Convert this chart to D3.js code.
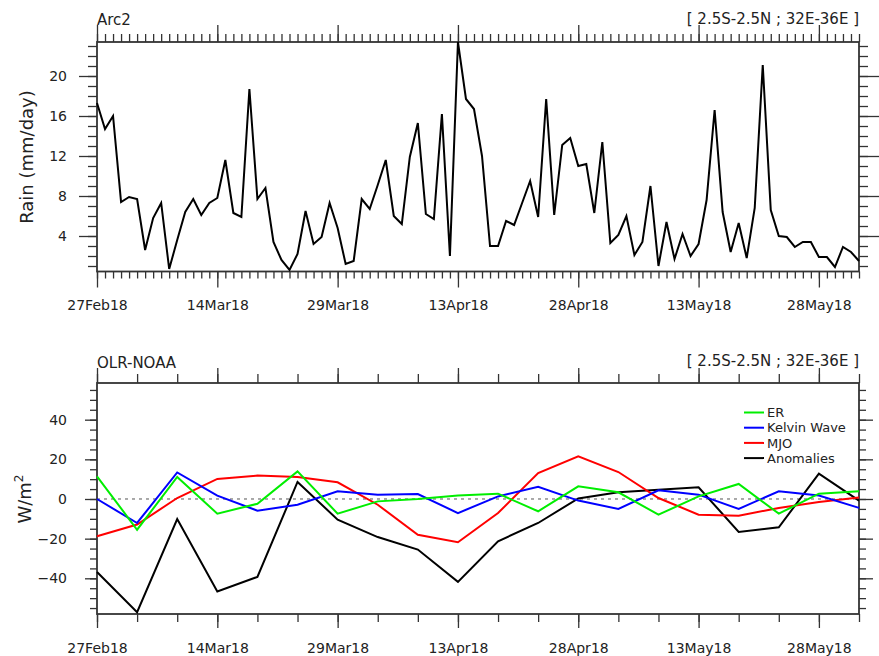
<!DOCTYPE html>
<html>
<head>
<meta charset="utf-8">
<script src="https://cdn.jsdelivr.net/npm/d3@7"></script>
<style>
body { margin: 0; background: #fff; }
svg { display: block; font-family: "DejaVu Sans", sans-serif; }
</style>
</head>
<body>
<svg id="chart" width="879" height="656"></svg>
<script>
var startDate = "2018-02-27";

// daily rain, 27Feb18 .. 02Jun18
var rainDaily = [
  17.3, 14.7, 16.0, 7.4, 7.9, 7.7, 2.6, 5.8, 7.3, 0.7,
  3.6, 6.4, 7.7, 6.1, 7.3, 7.8, 11.6, 6.3, 5.9, 18.7,
  7.7, 8.8, 3.4, 1.6, 0.6, 2.2, 6.5, 3.2, 3.9, 7.3,
  4.8, 1.2, 1.5, 7.7, 6.7, 9.1, 11.6, 6.0, 5.2, 11.9,
  15.3, 6.2, 5.7, 16.2, 2.0, 23.4, 17.7, 16.7, 12.0, 3.0,
  3.0, 5.5, 5.1, 7.3, 9.5, 5.9, 17.7, 6.1, 13.1, 13.8,
  11.0, 11.2, 6.3, 13.4, 3.3, 4.1, 6.0, 2.1, 3.4, 9.0,
  1.0, 5.4, 1.7, 4.2, 2.0, 3.2, 7.6, 16.6, 6.4, 2.4,
  5.3, 1.8, 6.8, 21.1, 6.6, 4.0, 3.9, 2.9, 3.4, 3.4,
  1.9, 1.9, 0.9, 2.9, 2.4, 1.5
];

// 5-day OLR components, W/m2
var olrER = [11.4, -15.5, 11.1, -7.4, -2.4, 13.9, -7.4, -1.2, 0, 1.8,
             2.7, -6.2, 6.4, 3.4, -7.9, 1.3, 7.6, -7.4, 2.7, 3.9];
var olrKelvin = [0, -12.1, 13.4, 1.7, -5.9, -2.9, 3.9, 2.2, 2.5, -7.1,
                 1.3, 6.1, -0.8, -5.0, 4.4, 2.2, -5.0, 3.9, 1.8, -4.5];
var olrMJO = [-18.8, -12.9, 0.5, 10.1, 11.8, 11.1, 8.4, -2.9, -18.0, -21.8,
              -7.1, 13.1, 21.5, 13.6, 0.5, -7.9, -8.4, -4.5, -1.5, 0.8];
var olrAnom = [-36.8, -57.1, -10.1, -46.6, -39.3, 8.6, -10.4, -19.2, -25.5, -41.8,
               -21.3, -12.1, 0.3, 3.4, 4.7, 5.9, -16.6, -14.3, 12.8, -0.8];

var seriesNames = ["ER", "Kelvin Wave", "MJO", "Anomalies"];
var seriesColors = ["#00ee00", "#0000ff", "#ff0000", "#000000"];

var dateLabels = ["27Feb18", "14Mar18", "29Mar18", "13Apr18", "28Apr18", "13May18", "28May18"];
var rainTicks = [4, 8, 12, 16, 20];
var olrTicks = [-40, -20, 0, 20, 40];

var svg = d3.select("#chart");
var t0 = d3.utcParse("%Y-%m-%d")(startDate);
var nDays = rainDaily.length;

var dailyDates = rainDaily.map((_, i) => d3.utcDay.offset(t0, i));
var pentadDates = olrER.map((_, i) => d3.utcDay.offset(t0, 5 * i));
var majorDates = dateLabels.map((_, i) => d3.utcDay.offset(t0, 15 * i));

var x = d3.scaleUtc()
  .domain([t0, dailyDates[nDays - 1]])
  .range([97, 859]);

var frameColor = "#333";

function addAxis(g, axis, tx, ty) {
  var a = g.append("g")
    .attr("transform", "translate(" + tx + "," + ty + ")")
    .call(axis);
  a.select(".domain").remove();
  a.selectAll("line").attr("stroke", frameColor).attr("stroke-width", 1.3);
  a.selectAll("text")
    .attr("font-family", "DejaVu Sans")
    .attr("font-size", 14)
    .attr("fill", "#222");
  return a;
}

// panel: box, ticks on all four sides
function drawPanel(y, top, bottom, o) {
  var g = svg.append("g");
  var left = 97, right = 859;

  // x ticks bottom
  addAxis(g, d3.axisBottom(x).tickValues(o.xMinor).tickSize(o.xMinorLen).tickFormat(""), 0, bottom);
  addAxis(g, d3.axisBottom(x).tickValues(majorDates).tickSize(o.xMajorLen)
    .tickPadding(o.xPad).tickFormat((d, i) => dateLabels[i]), 0, bottom);
  // x ticks top
  addAxis(g, d3.axisTop(x).tickValues(o.xMinor).tickSize(o.xMinorLen + 1).tickFormat(""), 0, top);
  addAxis(g, d3.axisTop(x).tickValues(majorDates).tickSize(o.xMajorLen + 1).tickFormat(""), 0, top);

  // y ticks left
  addAxis(g, d3.axisLeft(y).tickValues(o.yMinor).tickSize(o.yMinorLen).tickFormat(""), left, 0);
  addAxis(g, d3.axisLeft(y).tickValues(o.yMajor).tickSize(o.yMajorLen)
    .tickPadding(o.yPad).tickFormat(d3.format("d")), left, 0);
  // y ticks right
  addAxis(g, d3.axisRight(y).tickValues(o.yMinor).tickSize(o.yMinorLen).tickFormat(""), right, 0);
  addAxis(g, d3.axisRight(y).tickValues(o.yMajor).tickSize(o.yMajorLen + 2).tickFormat(""), right, 0);

  g.append("rect")
    .attr("x", left)
    .attr("y", top)
    .attr("width", right - left)
    .attr("height", bottom - top)
    .attr("fill", "none")
    .attr("stroke", frameColor)
    .attr("stroke-width", 1.8);
  return g;
}

function titles(leftText, yLeft, yRight) {
  svg.append("text")
    .attr("x", 97).attr("y", yLeft)
    .attr("font-size", 15).attr("fill", "#222")
    .text(leftText);
  svg.append("text")
    .attr("x", 859).attr("y", yRight)
    .attr("text-anchor", "end")
    .attr("font-size", 15).attr("fill", "#222")
    .text("[ 2.5S-2.5N ; 32E-36E ]");
}

// ---------- top panel: Arc2 rain ----------
var yRain = d3.scaleLinear().domain([0.45, 23.4]).range([271.5, 42]);

drawPanel(yRain, 42, 271.5, {
  xMinor: dailyDates, xMinorLen: 7, xMajorLen: 16, xPad: 12.5,
  yMinor: d3.range(1, 24), yMinorLen: 9, yMajor: rainTicks, yMajorLen: 18, yPad: 12
});

var rainLine = d3.line()
  .x((d, i) => x(dailyDates[i]))
  .y((d) => yRain(d));

svg.append("path")
  .datum(rainDaily)
  .attr("fill", "none")
  .attr("stroke", "#000")
  .attr("stroke-width", 2)
  .attr("stroke-linejoin", "miter")
  .attr("d", rainLine);

titles("Arc2", 25, 24);

svg.append("text")
  .attr("transform", "translate(33,157) rotate(-90)")
  .attr("text-anchor", "middle")
  .attr("font-size", 18).attr("fill", "#222")
  .text("Rain (mm/day)");

// ---------- bottom panel: OLR ----------
var yOlr = d3.scaleLinear().domain([-58, 58.5]).range([614, 383]);

drawPanel(yOlr, 383, 614, {
  xMinor: pentadDates, xMinorLen: 8, xMajorLen: 14, xPad: 15,
  yMinor: d3.range(-55, 56, 5), yMinorLen: 7, yMajor: olrTicks, yMajorLen: 12, yPad: 18
});

svg.append("line")
  .attr("x1", 97).attr("x2", 859)
  .attr("y1", yOlr(0)).attr("y2", yOlr(0))
  .attr("stroke", "#555")
  .attr("stroke-width", 1)
  .attr("stroke-dasharray", "3,4");

var olrLine = d3.line()
  .x((d, i) => x(pentadDates[i]))
  .y((d) => yOlr(d));

var olrSeries = [olrER, olrKelvin, olrMJO, olrAnom];
// draw anomalies first, ER on top
[3, 2, 1, 0].forEach(function (k) {
  svg.append("path")
    .datum(olrSeries[k])
    .attr("fill", "none")
    .attr("stroke", seriesColors[k])
    .attr("stroke-width", 2)
    .attr("d", olrLine);
});

titles("OLR-NOAA", 368, 366);

var wl = svg.append("text")
  .attr("transform", "translate(31,499) rotate(-90)")
  .attr("text-anchor", "middle")
  .attr("font-size", 18).attr("fill", "#222");
wl.append("tspan").text("W/m");
wl.append("tspan").attr("font-size", 12).attr("dy", -8).text("2");

// legend
var legend = svg.append("g").attr("transform", "translate(744,412.5)");
seriesNames.forEach(function (name, i) {
  var row = legend.append("g").attr("transform", "translate(0," + i * 15.2 + ")");
  row.append("line")
    .attr("x1", 0).attr("x2", 20)
    .attr("stroke", seriesColors[i])
    .attr("stroke-width", 2);
  row.append("text")
    .attr("x", 23).attr("dy", "0.36em")
    .attr("font-size", 13).attr("fill", "#222")
    .text(name);
});
</script>
</body>
</html>
